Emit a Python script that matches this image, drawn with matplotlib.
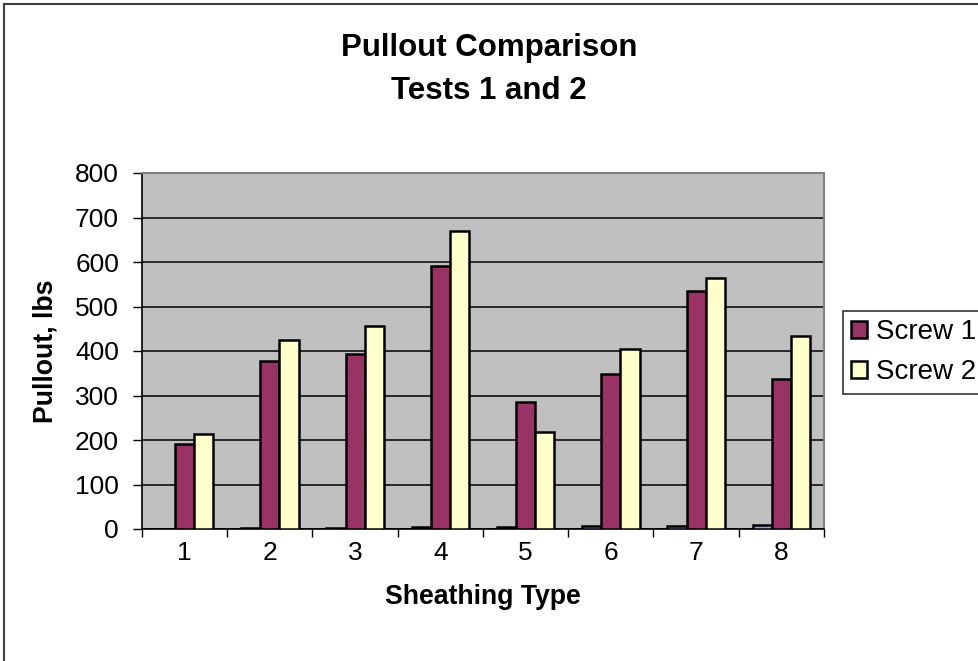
import matplotlib
matplotlib.use("Agg")
import matplotlib.pyplot as plt
from matplotlib.patches import Patch
from matplotlib.lines import Line2D
import numpy as np

plt.rcParams['font.family'] = ['Liberation Sans', 'DejaVu Sans']

categories = ['1', '2', '3', '4', '5', '6', '7', '8']
sheathing_index = [1, 2, 3, 4, 5, 6, 7, 8]
screw1 = [190, 378, 393, 591, 285, 348, 535, 338]
screw2 = [213, 424, 457, 670, 217, 405, 564, 433]
y_ticks = [0, 100, 200, 300, 400, 500, 600, 700, 800]

W, H = 979, 661
fig = plt.figure(figsize=(W / 100, H / 100), dpi=100)
fig.patch.set_facecolor('white')

# outer chart frame (left and top edges visible)
fig.add_artist(Line2D([3.5 / W, 3.5 / W], [0, 1 - 3.5 / H], color='#404040', lw=1.5, transform=fig.transFigure))
fig.add_artist(Line2D([3.5 / W, 1], [1 - 3.5 / H, 1 - 3.5 / H], color='#404040', lw=1.5, transform=fig.transFigure))

L, R, T, B = 142, 824, 173, 529
ax = fig.add_axes([L / W, 1 - B / H, (R - L) / W, (B - T) / H])
ax.set_facecolor('#C0C0C0')

x = np.arange(len(categories))
w = 0.2255
ax.bar(x - w, sheathing_index, w, color='#9999FF', edgecolor='black', linewidth=1.8, zorder=3)
ax.bar(x, screw1, w, color='#993366', edgecolor='black', linewidth=1.8, zorder=3)
ax.bar(x + w, screw2, w, color='#FFFFCC', edgecolor='black', linewidth=1.8, zorder=3)

ax.set_xlim(-0.5, len(categories) - 0.5)
ax.set_ylim(0, 800)
ax.set_yticks(y_ticks)
ax.set_yticklabels([str(v) for v in y_ticks], fontsize=19)
ax.yaxis.grid(True, color='black', linewidth=1.1, zorder=1)
ax.set_axisbelow(True)
ax.tick_params(axis='y', direction='out', length=6.5, width=1, pad=10, color='black')

ax.set_xticks(x)
ax.set_xticklabels(categories, fontsize=19)
ax.set_xticks(np.arange(-0.5, len(categories)), minor=True)
ax.tick_params(axis='x', which='major', length=0, pad=9)
ax.tick_params(axis='x', which='minor', direction='out', length=6, width=1, color='black')

for s in ['top', 'right']:
    ax.spines[s].set_color('#808080')
    ax.spines[s].set_linewidth(1.5)
for s in ['left', 'bottom']:
    ax.spines[s].set_color('black')
    ax.spines[s].set_linewidth(1.2)

ax.set_xlabel('Sheathing Type', fontsize=19.2, fontweight='bold', labelpad=13)
ax.set_ylabel('Pullout, lbs', fontsize=19.2, fontweight='bold', labelpad=12)

fig.text(489 / W, 1 - 33 / H, 'Pullout Comparison\nTests 1 and 2', ha='center', va='top',
         fontsize=22.5, fontweight='bold', linespacing=1.55)

handles = [Patch(facecolor='#993366', edgecolor='black', linewidth=1.8),
           Patch(facecolor='#FFFFCC', edgecolor='black', linewidth=1.8)]
leg = fig.legend(handles, ['Screw 1', 'Screw 2'], loc='upper left',
                 bbox_to_anchor=(843 / W, 1 - 311 / H), bbox_transform=fig.transFigure,
                 fontsize=20, frameon=True, fancybox=False, edgecolor='black',
                 handlelength=0.58, handleheight=0.58, handletextpad=0.3,
                 labelspacing=0.5, borderpad=0.3, borderaxespad=0)
leg.get_frame().set_linewidth(1.2)

fig.savefig('out.png', dpi=100, facecolor='white')
